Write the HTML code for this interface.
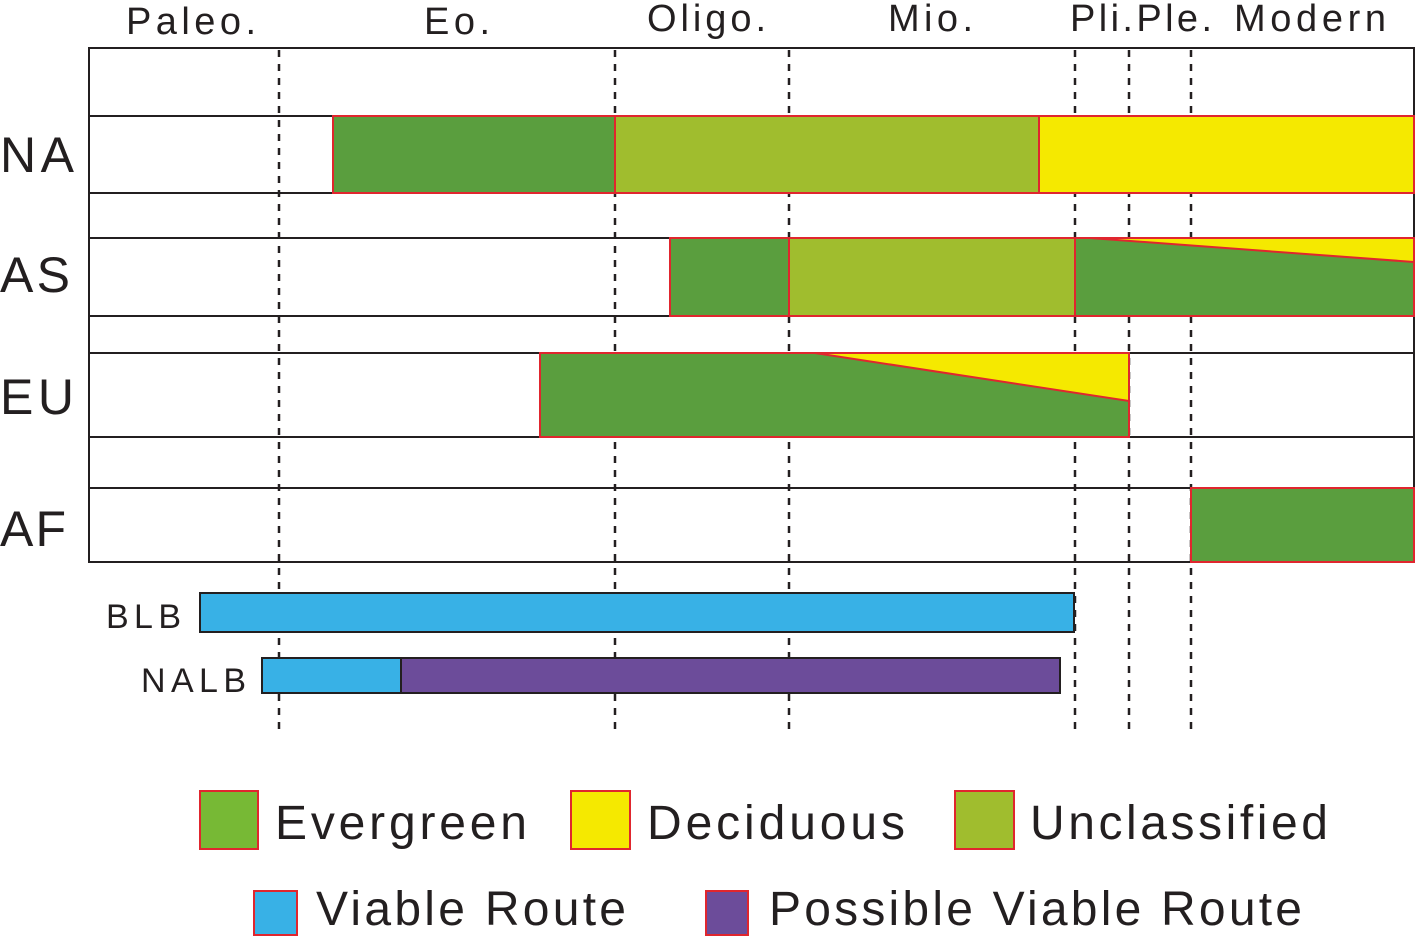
<!DOCTYPE html>
<html><head><style>body{margin:0;background:#fff}svg{display:block}</style></head><body>
<svg width="1416" height="937" xmlns="http://www.w3.org/2000/svg" font-family="Liberation Sans, Arial, sans-serif" fill="#231f20">
<g font-size="38" lengthAdjust="spacing">
<text x="126" y="34" textLength="130">Paleo.</text><text x="424" y="34" textLength="66">Eo.</text><text x="647" y="31" textLength="119">Oligo.</text><text x="888" y="31" textLength="85">Mio.</text>
<text x="1070" y="31" textLength="142">Pli.Ple.</text><text x="1234" y="31" textLength="152">Modern</text>
</g>
<g font-size="50"><text x="0" y="172" textLength="74">NA</text><text x="0" y="292" textLength="70">AS</text><text x="0" y="414" textLength="74">EU</text><text x="0" y="546" textLength="66">AF</text></g>
<g stroke="#231f20" stroke-width="2" fill="none">
<rect x="89" y="48" width="1325" height="514"/>
<line x1="89" y1="116" x2="1414" y2="116"/><line x1="89" y1="193" x2="1414" y2="193"/>
<line x1="89" y1="238" x2="1414" y2="238"/><line x1="89" y1="316" x2="1414" y2="316"/>
<line x1="89" y1="353" x2="1414" y2="353"/><line x1="89" y1="437" x2="1414" y2="437"/>
<line x1="89" y1="488" x2="1414" y2="488"/>
</g>
<g stroke="#231f20" stroke-width="2.5" stroke-dasharray="7,7">
<line x1="279" y1="50" x2="279" y2="735"/><line x1="615" y1="50" x2="615" y2="735"/><line x1="789" y1="50" x2="789" y2="735"/>
<line x1="1075" y1="50" x2="1075" y2="735"/><line x1="1129" y1="50" x2="1129" y2="735"/><line x1="1191" y1="50" x2="1191" y2="735"/>
</g>
<g stroke="#e0262e" stroke-width="2">
<rect x="333" y="116" width="282" height="77" fill="#5a9e3e"/>
<rect x="615" y="116" width="424" height="77" fill="#a0bd2e"/>
<rect x="1039" y="116" width="375" height="77" fill="#f5e900"/>
<rect x="670" y="238" width="119" height="78" fill="#5a9e3e"/>
<rect x="789" y="238" width="286" height="78" fill="#a0bd2e"/>
<rect x="1075" y="238" width="339" height="78" fill="#5a9e3e"/>
<polygon points="1090,238 1414,238 1414,262" fill="#f5e900"/>
<rect x="540" y="353" width="589" height="84" fill="#5a9e3e"/>
<polygon points="815,353 1129,353 1129,401" fill="#f5e900"/>
<rect x="1191" y="488" width="223" height="74" fill="#5a9e3e"/>
</g>
<g stroke="#231f20" stroke-width="2">
<rect x="200" y="593" width="874" height="39" fill="#38b1e6"/>
<rect x="262" y="658" width="139" height="35" fill="#38b1e6"/>
<rect x="401" y="658" width="659" height="35" fill="#6c4c9a"/>
</g>
<g font-size="34"><text x="106" y="628" textLength="75">BLB</text><text x="141" y="692" textLength="105">NALB</text></g>
<g stroke="#e0262e" stroke-width="2">
<rect x="200" y="791" width="58" height="58" fill="#77b935"/>
<rect x="571" y="791" width="59" height="58" fill="#f5e900"/>
<rect x="955" y="791" width="59" height="58" fill="#a0bd2e"/>
<rect x="254" y="891" width="43" height="44" fill="#38b1e6"/>
<rect x="706" y="891" width="42" height="44" fill="#6c4c9a"/>
</g>
<g font-size="48">
<text x="275" y="839" textLength="252">Evergreen</text><text x="647" y="839" textLength="258">Deciduous</text><text x="1030" y="839" textLength="298">Unclassified</text>
<text x="316" y="925" textLength="310">Viable Route</text><text x="769" y="925" textLength="533">Possible Viable Route</text>
</g>
</svg>
</body></html>
